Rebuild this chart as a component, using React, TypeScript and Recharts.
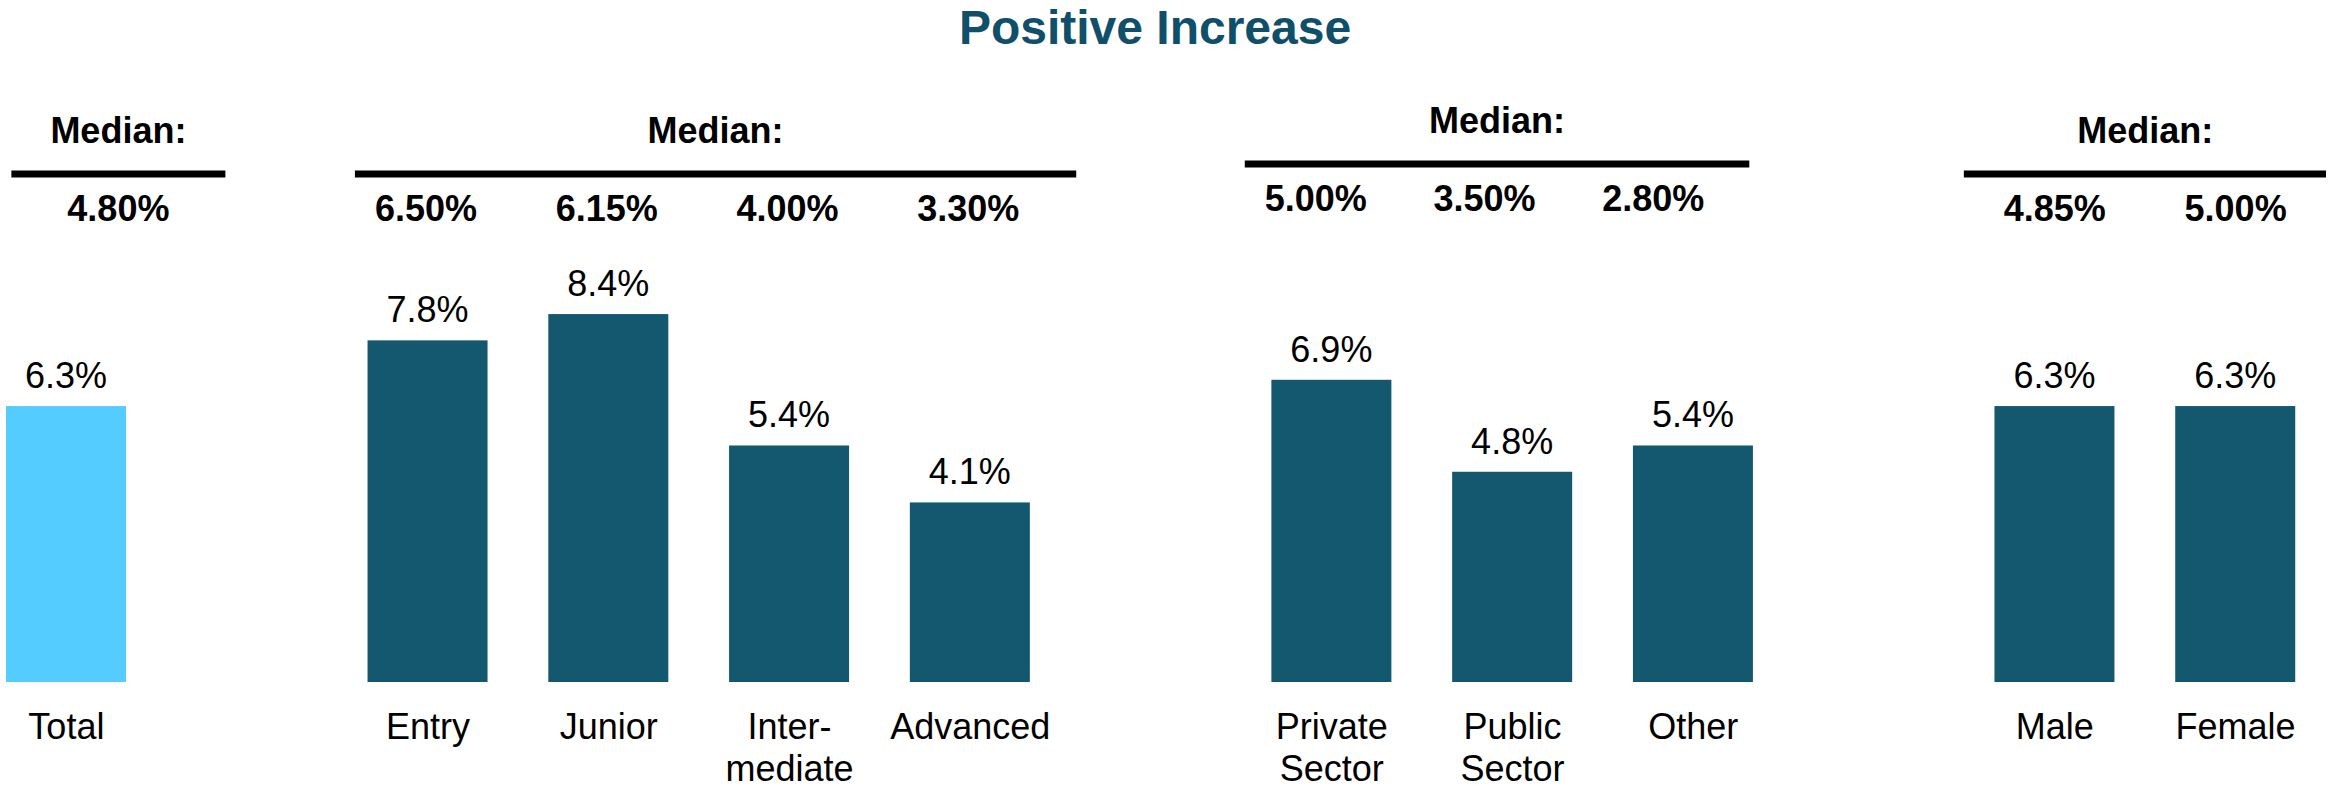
import React from "react";
import { BarChart, Bar, XAxis, YAxis } from "recharts";

// ---------- data ----------
const categories = ["Total", "Entry", "Junior", "Inter-\nmediate", "Advanced", "Private\nSector", "Public\nSector", "Other", "Male", "Female"];
const groupOf = [0, 1, 1, 1, 1, 2, 2, 2, 3, 3];
const values = [6.3, 7.8, 8.4, 5.4, 4.1, 6.9, 4.8, 5.4, 6.3, 6.3];
const medians = ["4.80%", "6.50%", "6.15%", "4.00%", "3.30%", "5.00%", "3.50%", "2.80%", "4.85%", "5.00%"];
const groupHeaders = ["Median:", "Median:", "Median:", "Median:"];
const title = "Positive Increase";

// ---------- style / layout constants ----------
const FONT = "'Liberation Sans', Arial, Helvetica, sans-serif";
const DARK = "#13586F";
const LIGHT = "#55CCFF";
const TITLE_COLOR = "#0F4F6A";
const BAR_SIZE = 120;
const CHART_W = 2350;
const CHART_H = 786;
// per-group header styling: line extension beyond first/last bar, vertical shift, median nudges
const GROUP_STYLE = [
  { extL: -5, extR: 99, dy: 0, nudge: [52] },
  { extL: 13, extR: 46, dy: 0, nudge: [-2, -2, -2, -2] },
  { extL: 27, extR: -4, dy: -10, nudge: [-16, -28, -40] },
  { extL: 31, extR: 31, dy: 0, nudge: [0, 0] },
];

type Row = {
  key: string;
  label: string;
  value: number | null;
  median: string;
  group: number;
  posInGroup: number;
  groupSize: number;
};

const rows: Row[] = [];
{
  let prevGroup = -1;
  categories.forEach((c, i) => {
    const g = groupOf[i];
    if (prevGroup !== -1 && g !== prevGroup) {
      rows.push({ key: `gap${g}`, label: "", value: null, median: "", group: -1, posInGroup: -1, groupSize: 0 });
    }
    const posInGroup = groupOf.slice(0, i).filter((x) => x === g).length;
    const groupSize = groupOf.filter((x) => x === g).length;
    rows.push({ key: c, label: c, value: values[i], median: medians[i], group: g, posInGroup, groupSize });
    prevGroup = g;
  });
}
const rowByKey: Record<string, Row> = {};
rows.forEach((r) => (rowByKey[r.key] = r));

const BarShape = (props: any) => {
  const { x, y, width, height, payload } = props;
  if (!payload || payload.value == null || !isFinite(height)) return null;
  const fill = payload.group === 0 ? LIGHT : DARK;
  return (
    <g>
      <rect x={x} y={y} width={width} height={height} fill={fill} />
      <text
        x={x + width / 2}
        y={y - 18}
        textAnchor="middle"
        fontFamily={FONT}
        fontSize={36}
        fill="#000"
      >
        {`${payload.value.toFixed(1)}%`}
      </text>
    </g>
  );
};

const Tick = (props: any) => {
  const { x, payload } = props;
  const row = rowByKey[payload?.value];
  if (!row || row.value == null) return null;
  const cx = typeof payload.coordinate === "number" ? payload.coordinate : x;
  const step = payload && payload.offset ? payload.offset * 2 : CHART_W / rows.length;
  const gs = GROUP_STYLE[row.group];
  const lines = row.label.split("\n");
  const elements: React.ReactNode[] = [];

  lines.forEach((ln, i) => {
    elements.push(
      <text key={`l${i}`} x={cx} y={739 + i * 42} textAnchor="middle" fontFamily={FONT} fontSize={36} fill="#000">
        {ln}
      </text>
    );
  });

  elements.push(
    <text
      key="med"
      x={cx + (gs.nudge[row.posInGroup] || 0)}
      y={221 + gs.dy}
      textAnchor="middle"
      fontFamily={FONT}
      fontWeight="bold"
      fontSize={36}
      fill="#000"
    >
      {row.median}
    </text>
  );

  if (row.posInGroup === 0) {
    const left = cx - BAR_SIZE / 2 - gs.extL;
    const right = cx + (row.groupSize - 1) * step + BAR_SIZE / 2 + gs.extR;
    const mid = (left + right) / 2;
    elements.push(
      <rect key="line" x={left} y={170.5 + gs.dy} width={right - left} height={7} fill="#000" />
    );
    elements.push(
      <text
        key="hdr"
        x={mid}
        y={143 + gs.dy}
        textAnchor="middle"
        fontFamily={FONT}
        fontWeight="bold"
        fontSize={36}
        fill="#000"
      >
        {groupHeaders[row.group]}
      </text>
    );
  }
  return <g>{elements}</g>;
};

export default function App() {
  return (
    <div style={{ position: "absolute", left: 0, top: 0, width: 2338, height: 786, overflow: "hidden", background: "#fff" }}>
      <div
        style={{
          position: "absolute",
          left: 0,
          top: 4,
          width: 2310,
          textAlign: "center",
          fontFamily: FONT,
          fontWeight: "bold",
          fontSize: 48,
          lineHeight: "48px",
          color: TITLE_COLOR,
        }}
      >
        {title}
      </div>
      <div style={{ position: "absolute", left: -24, top: 0 }}>
        <BarChart
          width={CHART_W}
          height={CHART_H}
          data={rows}
          margin={{ top: 244, right: 0, bottom: 0, left: 0 }}
          barCategoryGap={0}
        >
          <XAxis
            dataKey="key"
            type="category"
            axisLine={false}
            tickLine={false}
            interval={0}
            height={104}
            tick={<Tick />}
          />
          <YAxis hide domain={[0, 10]} allowDataOverflow />
          <Bar dataKey="value" barSize={BAR_SIZE} shape={<BarShape />} isAnimationActive={false} />
        </BarChart>
      </div>
    </div>
  );
}
